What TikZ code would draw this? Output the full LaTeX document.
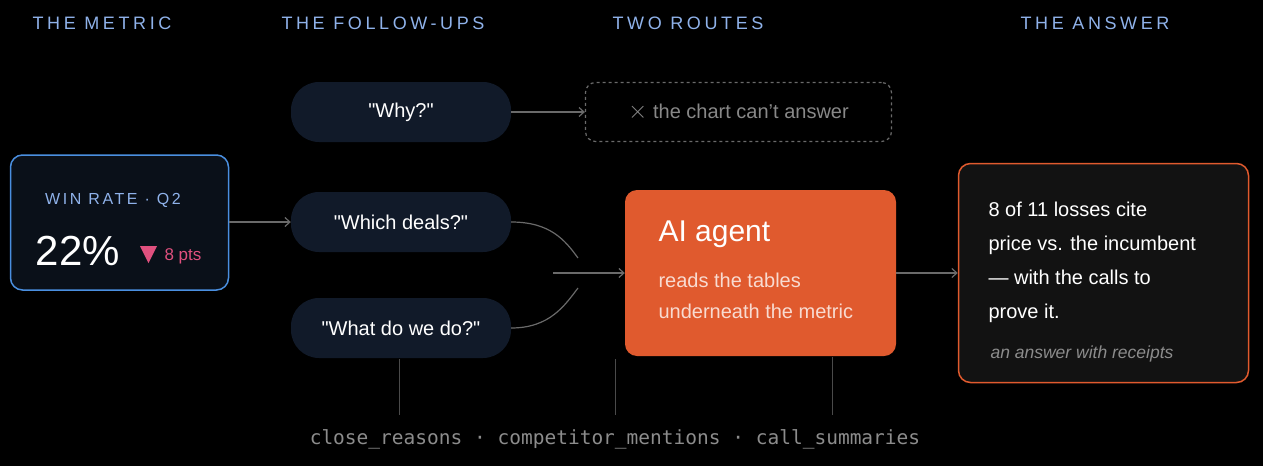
\documentclass[tikz,border=0pt]{standalone}
\usepackage{fontspec}
\setmainfont{Liberation Sans}
\newfontfamily\monof{DejaVu Sans Mono}
\usetikzlibrary{arrows.meta}
\definecolor{hdr}{HTML}{8FB2EA}
\definecolor{pill}{HTML}{111A29}
\definecolor{ln}{HTML}{6A6A6A}
\definecolor{org}{HTML}{E05A2E}
\definecolor{pinkc}{HTML}{E0507E}
\definecolor{bluebd}{HTML}{4A8FE0}
\begin{document}
\begin{tikzpicture}[x=1pt,y=-1pt,
  hd/.style={text=hdr,font=\fontsize{18}{18}\selectfont\addfontfeature{LetterSpace=20}},
  pl/.style={fill=pill,rounded corners=28pt,minimum width=220pt,minimum height=60pt,text=white,font=\fontsize{20}{20}\selectfont},
  ar/.style={draw=ln,line width=1.2pt,-{Straight Barb[length=5pt,width=9pt]}},
  vl/.style={draw=ln!70!black,line width=1pt}]
\fill[black] (0,0) rectangle (1263,466);
\useasboundingbox (0,0) rectangle (1263,466);
\node[hd] (h1) at (102,23) {THE METRIC};
\node[hd] (h2) at (383,23) {THE FOLLOW-UPS};
\node[hd] (h3) at (688,23) {TWO ROUTES};
\node[hd] (h4) at (1095,23) {THE ANSWER};
% metric
\node[draw=bluebd,line width=1.5pt,fill=pill!60!black,rounded corners=12pt,minimum width=218pt,minimum height=135pt] (m) at (119.5,222.5) {};
\node[text=hdr,font=\fontsize{16}{16}\selectfont\addfontfeature{LetterSpace=16}] (wr) at (113,200) {WIN RATE · Q2};
\node[text=white,font=\fontsize{42}{42}\selectfont] (p) at (78,251) {22\%};
\node[text=pinkc,font=\fontsize{17}{17}\selectfont] (d) at (183,256) {8 pts};
\fill[pinkc] (140,246) -- (157,246) -- (148.5,263) -- cycle;
% pills
\node[pl] (q1) at (401,112) {\textquotedbl Why?\textquotedbl};
\node[pl] (q2) at (401,222) {\textquotedbl Which deals?\textquotedbl};
\node[pl] (q3) at (401,328) {\textquotedbl What do we do?\textquotedbl};
\draw[ar] (m.east|-q2) -- (q2.west);
\node[draw=ln,dashed,line width=1.2pt,rounded corners=10pt,minimum width=306pt,minimum height=59pt,text=ln!80!white,font=\fontsize{20}{20}\selectfont] (no) at (738.5,112) {{\fontsize{26}{20}\selectfont$\times$} the chart can't answer};
\draw[ar] (q1.east) -- (no.west);
% agent
\node[fill=org,rounded corners=12pt,minimum width=271pt,minimum height=166pt] (ag) at (760.5,273) {};
\node[anchor=west,text=white,font=\fontsize{30}{30}\selectfont] (agt) at (655,234) {AI agent};
\node[anchor=west,text=white!78!org,font=\fontsize{20}{20}\selectfont] (ag1) at (655,280) {reads the tables};
\node[anchor=west,text=white!78!org,font=\fontsize{20}{20}\selectfont] (ag2) at (655,311) {underneath the metric};
\coordinate (j) at (553,273);
\draw[ln,line width=1.2pt] (q2.east) .. controls (550,222) and (565,240) .. (578,258);
\draw[ln,line width=1.2pt] (q3.east) .. controls (550,328) and (565,305) .. (578,288);
\draw[ar] (j) -- (ag.west);
% answer
\node[draw=org,line width=1.5pt,fill=white!7!black,rounded corners=12pt,minimum width=290pt,minimum height=219pt] (an) at (1103.5,273) {};
\draw[ar] (ag.east) -- (an.west);
\node[anchor=north west,text=white,font=\fontsize{20}{34}\selectfont,align=left] (at) at (985,198) {8 of 11 losses cite\\price vs. the incumbent\\— with the calls to\\prove it.};
\node[anchor=west,text=white!55!black,font=\fontsize{17.5}{17.5}\selectfont\itshape] (rc) at (987,354) {an answer with receipts};
% tables
\node[text=white!55!black,font=\monof\fontsize{19.5}{19.5}\selectfont] (tb) at (615,439) {close\_reasons · competitor\_mentions · call\_summaries};
\coordinate (t1) at (399,415);\coordinate (t2) at (615,415);\coordinate (t3) at (832,415);
\draw[vl] (399,359) -- (t1);
\draw[vl] (615,359) -- (t2);
\draw[vl] (832,357) -- (t3);
\end{tikzpicture}
\end{document}
